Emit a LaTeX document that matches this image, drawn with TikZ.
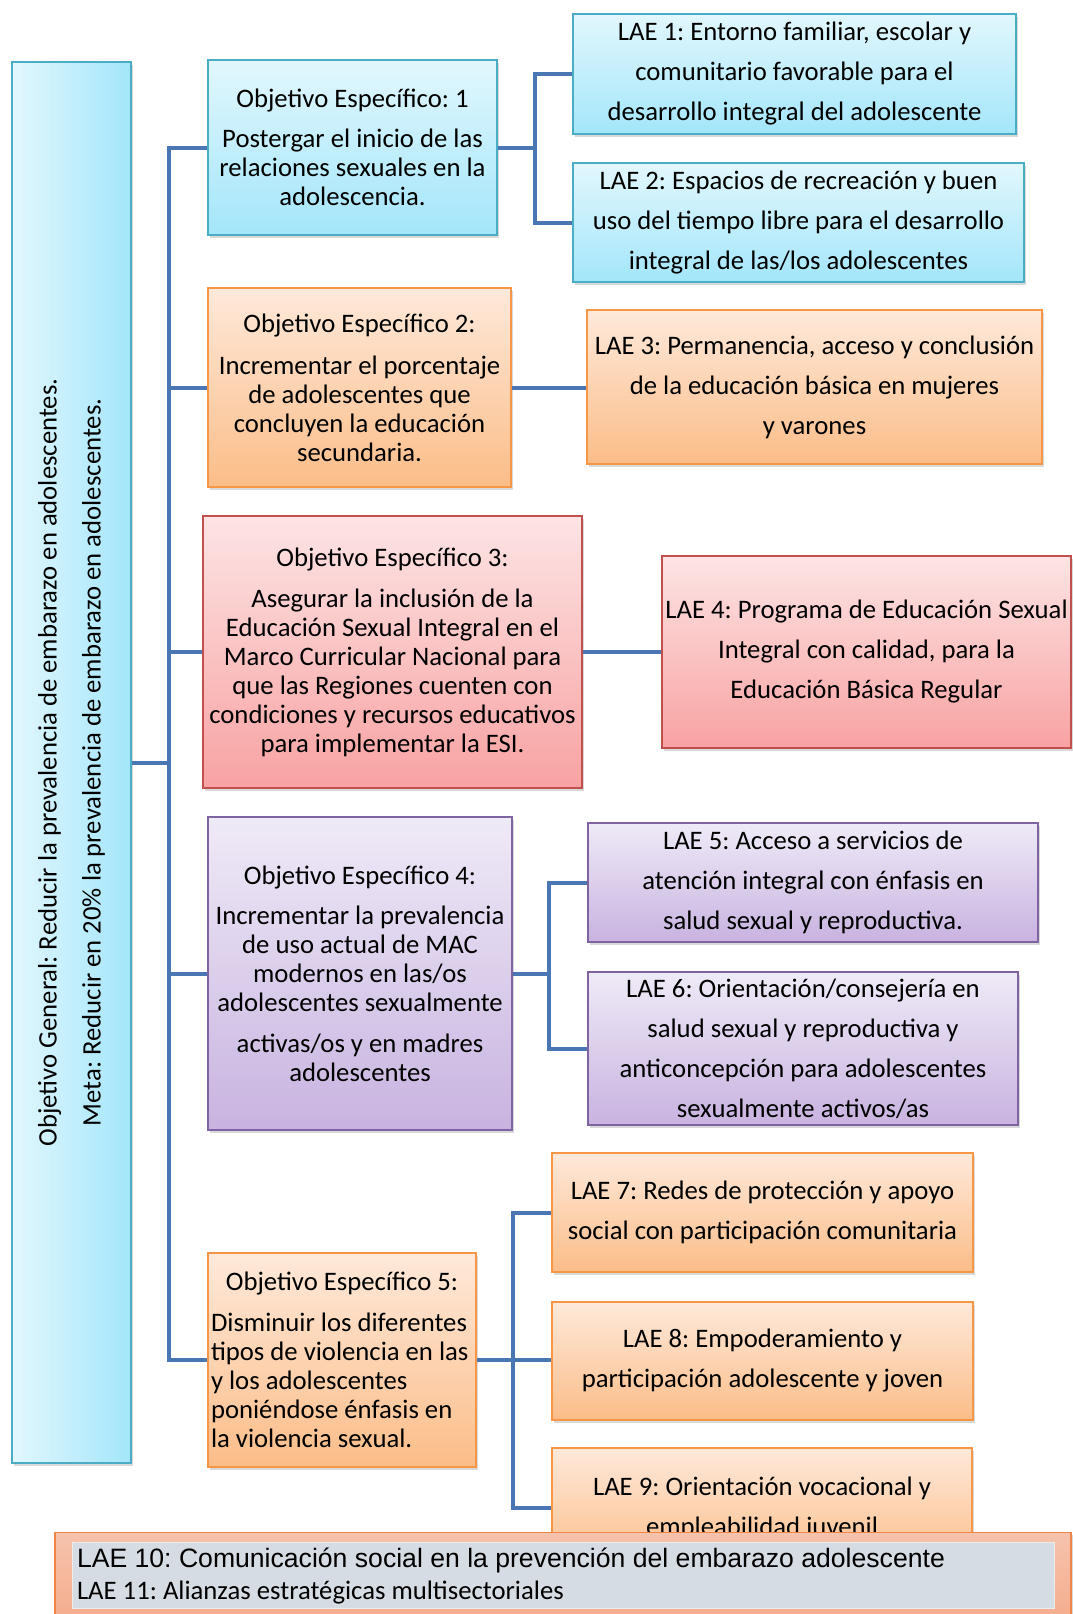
\documentclass[tikz,border=0pt]{standalone}
\usepackage{fontspec}
\setmainfont{Carlito}
\newfontfamily\arialfont{Liberation Sans}
\usetikzlibrary{shadows}
\frenchspacing

\definecolor{linkblue}{HTML}{4A77B4}
\definecolor{cyanline}{HTML}{4BACC6}
\definecolor{cyantop}{HTML}{E2F7FD}
\definecolor{cyanbot}{HTML}{A3E6FA}
\definecolor{orangeline}{HTML}{F79646}
\definecolor{orangetop}{HTML}{FEE9DA}
\definecolor{orangebot}{HTML}{FBBD88}
\definecolor{redline}{HTML}{C0504D}
\definecolor{redtop}{HTML}{FDE4E4}
\definecolor{redbot}{HTML}{F8A2A2}
\definecolor{purpleline}{HTML}{8064A2}
\definecolor{purpletop}{HTML}{EFEAF7}
\definecolor{purplebot}{HTML}{C8B3E0}
\definecolor{salmonline}{HTML}{F0854A}
\definecolor{salmontop}{HTML}{F6C2AC}
\definecolor{salmonbot}{HTML}{F5A886}
\definecolor{grayfill}{HTML}{D6DCE4}

\begin{document}
\begin{tikzpicture}[x=1pt, y=-1pt,
        box/.style={draw, line width=1.6pt, align=center, inner sep=2pt,
            font=\fontsize{26.7}{40}\selectfont,
            drop shadow={shadow xshift=1.5pt, shadow yshift=-2.5pt, opacity=.3}},
        oebox/.style={box, font=\fontsize{26.7}{29}\selectfont},
        cyanbox/.style={draw=cyanline, top color=cyantop, bottom color=cyanbot},
        orangebox/.style={draw=orangeline, top color=orangetop, bottom color=orangebot},
        redbox/.style={draw=redline, top color=redtop, bottom color=redbot},
        purplebox/.style={draw=purpleline, top color=purpletop, bottom color=purplebot},
        conn/.style={draw=linkblue, line width=4pt}
    ]
    \useasboundingbox (0,0) rectangle (1073,1614);

    % objetivo general
    \node[box, draw=cyanline, left color=cyantop, right color=cyanbot,
        minimum width=119pt, minimum height=1401pt] (gen) at (71.5,762.5) {};
    \node[rotate=90, align=center, font=\fontsize{26.7}{44}\selectfont] (gentxt) at (gen.center)
        {Objetivo General: Reducir la prevalencia de embarazo en adolescentes.\\
         Meta: Reducir en 20\% la prevalencia de embarazo en adolescentes.};

    % objetivos especificos
    \node[oebox, cyanbox, minimum width=289pt, minimum height=175pt] (oe1) at (352.5,147.5)
        {Objetivo Específico: 1\\[11pt]Postergar el inicio de las\\relaciones sexuales en la\\adolescencia.};
    \node[oebox, orangebox, minimum width=303pt, minimum height=199pt] (oe2) at (359.5,387.5)
        {Objetivo Específico 2:\\[13pt]Incrementar el porcentaje\\de adolescentes que\\concluyen la educación\\secundaria.};
    \node[oebox, redbox, minimum width=379pt, minimum height=272pt] (oe3) at (392.5,652)
        {Objetivo Específico 3:\\[12pt]Asegurar la inclusión de la\\Educación Sexual Integral en el\\Marco Curricular Nacional para\\que las Regiones cuenten con\\condiciones y recursos educativos\\para implementar la ESI.};
    \node[oebox, purplebox, minimum width=304pt, minimum height=313pt] (oe4) at (360,973.5)
        {Objetivo Específico 4:\\[11pt]Incrementar la prevalencia\\de uso actual de MAC\\modernos en las/os\\adolescentes sexualmente\\[12pt]activas/os y en madres\\adolescentes};
    \node[oebox, orangebox, align=flush left,
        minimum width=268pt, minimum height=214pt] (oe5) at (342,1360)
        {\makebox[262pt]{Objetivo Específico 5:}\\[12pt]Disminuir los diferentes\\tipos de violencia en las\\y los adolescentes\\poniéndose énfasis en\\la violencia sexual.};

    % lineas de accion estrategica
    \node[box, cyanbox, minimum width=443pt, minimum height=120pt] (lae1) at (794.5,74)
        {LAE 1: Entorno familiar, escolar y\\comunitario favorable para el\\desarrollo integral del adolescente};
    \node[box, cyanbox, minimum width=451pt, minimum height=119pt] (lae2) at (798.5,222.5)
        {LAE 2: Espacios de recreación y buen\\uso del tiempo libre para el desarrollo\\integral de las/los adolescentes};
    \node[box, orangebox, minimum width=455pt, minimum height=154pt] (lae3) at (814.5,387)
        {LAE 3: Permanencia, acceso y conclusión\\de la educación básica en mujeres\\y varones};
    \node[box, redbox, minimum width=409pt, minimum height=192pt] (lae4) at (866.5,652)
        {LAE 4: Programa de Educación Sexual\\Integral con calidad, para la\\Educación Básica Regular};
    \node[box, purplebox, minimum width=450pt, minimum height=119pt] (lae5) at (813,882.5)
        {LAE 5: Acceso a servicios de\\atención integral con énfasis en\\salud sexual y reproductiva.};
    \node[box, purplebox, minimum width=430pt, minimum height=153pt] (lae6) at (803,1048.5)
        {LAE 6: Orientación/consejería en\\salud sexual y reproductiva y\\anticoncepción para adolescentes\\sexualmente activos/as};
    \node[box, orangebox, minimum width=421pt, minimum height=119pt] (lae7) at (762.5,1212.5)
        {LAE 7: Redes de protección y apoyo\\social con participación comunitaria};
    \node[box, orangebox, minimum width=421pt, minimum height=118pt] (lae8) at (762.5,1361)
        {LAE 8: Empoderamiento y\\participación adolescente y joven};
    \node[box, orangebox, minimum width=420pt, minimum height=120pt] (lae9) at (762,1508)
        {LAE 9: Orientación vocacional y\\empleabilidad juvenil};

    % conectores
    \coordinate (tk) at (169,0);
    \coordinate (b1) at (535,0);
    \coordinate (b4) at (549,0);
    \coordinate (b5) at (513,0);
    \draw[conn] (oe1.west) -| (tk |- oe5.west) -- (oe5.west);
    \draw[conn] (gen.east) -- (gen.east -| tk);
    \foreach \o in {oe2,oe3,oe4}
        \draw[conn] (\o.west -| tk) -- (\o.west);
    \draw[conn] (oe1.east) -- (oe1.east -| b1);
    \draw[conn] (lae1.west) -| (b1 |- lae2.west) -- (lae2.west);
    \draw[conn] (oe2.east) -- (oe2.east -| lae3.west);
    \draw[conn] (oe3.east) -- (oe3.east -| lae4.west);
    \draw[conn] (oe4.east) -- (oe4.east -| b4);
    \draw[conn] (lae5.west) -| (b4 |- lae6.west) -- (lae6.west);
    \draw[conn] (oe5.east) -- (oe5.east -| lae8.west);
    \draw[conn] (lae7.west) -| (b5 |- lae9.west) -- (lae9.west);

    % LAE transversales
    \node[box, draw=salmonline, top color=salmontop, bottom color=salmonbot,
        minimum width=1016pt, minimum height=107pt] (transv) at (563,1586) {};
    \node[draw=white!85!gray, fill=grayfill, align=flush left, text width=972pt, inner sep=5pt,
        minimum height=63pt, font=\fontsize{26.7}{32}\selectfont] (transvtxt) at (563,1575.5)
        {{\arialfont\fontsize{26.6}{32}\selectfont LAE 10: Comunicación social en la prevención del embarazo adolescente}\\
         LAE 11: Alianzas estratégicas multisectoriales};
\end{tikzpicture}
\end{document}
